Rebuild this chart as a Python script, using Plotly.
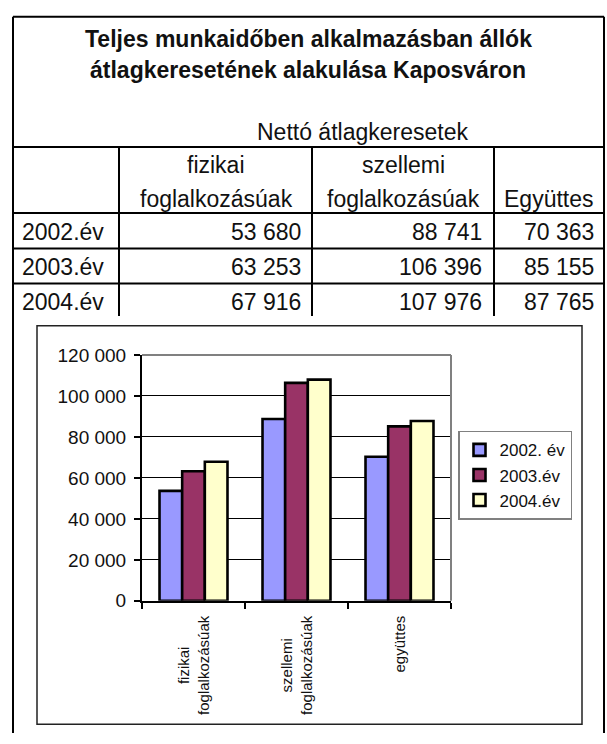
import plotly.graph_objects as go

# ---------------- data ----------------
title_lines = ["Teljes munkaidőben alkalmazásban állók",
               "átlagkeresetének alakulása Kaposváron"]
subtitle = "Nettó átlagkeresetek"
table_years = ["2002.év", "2003.év", "2004.év"]
table_headers = [["fizikai", "foglalkozásúak"],
                 ["szellemi", "foglalkozásúak"],
                 ["", "Együttes"]]
legend_names = ["2002. év", "2003.év", "2004.év"]
chart_categories = ["fizikai<br>foglalkozásúak", "szellemi<br>foglalkozásúak", "együttes"]
values_2002 = [53680, 88741, 70363]
values_2003 = [63253, 106396, 85155]
values_2004 = [67916, 107976, 87765]
series_values = [values_2002, values_2003, values_2004]
bar_colors = ["#9999FF", "#993366", "#FFFFCC"]
y_tick_values = [0, 20000, 40000, 60000, 80000, 100000, 120000]

# ---------------- layout helpers ----------------
W, H = 607, 744
FONT = "Liberation Sans, Arial, sans-serif"


def px(x):
    return x / W


def py(y):
    return 1 - y / H


def fmt(v):
    return f"{v:,}".replace(",", " ")


fig = go.Figure()

for name, vals, col in zip(legend_names, series_values, bar_colors):
    fig.add_trace(go.Bar(
        x=chart_categories, y=vals, name=name, legendgroup=name,
        marker=dict(color=col, line=dict(color="black", width=2.6)),
        hoverinfo="skip",
    ))

shapes = []


def hline(y, x0=13, x1=604, w=2):
    shapes.append(dict(type="line", xref="paper", yref="paper",
                       x0=px(x0), x1=px(x1), y0=py(y), y1=py(y),
                       line=dict(color="black", width=w)))


def vline(x, y0, y1, w=2):
    shapes.append(dict(type="line", xref="paper", yref="paper",
                       x0=px(x), x1=px(x), y0=py(y0), y1=py(y1),
                       line=dict(color="black", width=w)))


# outer frame
hline(7)
vline(13, 7, 744)
vline(604, 7, 744)
# table grid
for y in [141, 209, 245.5, 281.5]:
    hline(y)
for x in [119, 312, 494]:
    vline(x, 141, 315)

# chart frame
shapes.append(dict(type="rect", xref="paper", yref="paper",
                   x0=px(37), x1=px(582), y0=py(735), y1=py(325),
                   line=dict(color="#222222", width=1.5)))
# plot area grey border (top and right)
shapes.append(dict(type="line", xref="x domain", yref="y domain",
                   x0=0, x1=1, y0=1, y1=1, layer="above",
                   line=dict(color="#808080", width=2)))
shapes.append(dict(type="line", xref="x domain", yref="y domain",
                   x0=1, x1=1, y0=0, y1=1, layer="above",
                   line=dict(color="#808080", width=2)))

annotations = []


def text(t, x, y, size=23, anchor="center", bold=False):
    annotations.append(dict(
        text=f"<b>{t}</b>" if bold else t, x=px(x), y=py(y),
        xref="paper", yref="paper", xanchor=anchor, yanchor="middle",
        showarrow=False, font=dict(family=FONT, size=size, color="#111111")))


text(title_lines[0], 308, 30, bold=True)
text(title_lines[1], 308, 62, bold=True)
text(subtitle, 362, 126)

col_centers = [216, 403, 549]
col_rights = [303, 484, 596]
for (l1, l2), cx in zip(table_headers, col_centers):
    if l1:
        text(l1, cx, 159)
    text(l2, cx, 194)

row_ys = [228, 264, 300]
for i, (yr, ry) in enumerate(zip(table_years, row_ys)):
    text(yr, 20, ry, anchor="left")
    for j, xr in enumerate(col_rights):
        text(fmt(series_values[i][j]), xr, ry, anchor="right")

# rotated category labels under the chart
for cat in chart_categories:
    annotations.append(dict(
        text=cat, x=cat, xref="x", y=py(621), yref="paper",
        xanchor="center", yanchor="top", textangle=-90, align="center",
        showarrow=False, font=dict(family=FONT, size=15, color="#111111")))

fig.update_layout(
    width=W, height=H,
    margin=dict(l=0, r=0, t=0, b=0, pad=0),
    paper_bgcolor="white", plot_bgcolor="white",
    barmode="group", bargap=0.34, bargroupgap=0,
    separators=", ",
    font=dict(family=FONT, color="#111111"),
    shapes=shapes, annotations=annotations,
    xaxis=dict(domain=[px(142), px(451)], type="category",
               showline=True, linecolor="black", linewidth=2,
               ticks="outside", tickson="boundaries", ticklen=6,
               tickwidth=1.5, tickcolor="black",
               showticklabels=False, showgrid=False, fixedrange=True),
    yaxis=dict(domain=[py(608), py(355)], range=[0, 120000],
               tickvals=y_tick_values, tickformat=",d",
               showline=True, linecolor="black", linewidth=2,
               ticks="outside", ticklen=6, tickwidth=1.5, tickcolor="black",
               showgrid=True, gridcolor="black", gridwidth=1,
               zeroline=False, ticklabelstandoff=4,
               tickfont=dict(family=FONT, size=19, color="#111111"),
               fixedrange=True),
    legend=dict(x=px(458), y=py(433), xanchor="left", yanchor="top",
                bgcolor="white", bordercolor="#808080", borderwidth=1.5,
                font=dict(family=FONT, size=17, color="#111111"),
                tracegroupgap=6, itemwidth=30, traceorder="normal"),
    showlegend=True,
)

fig.write_html("out.html", config={"displayModeBar": False},
               post_script="document.body.style.margin='0';document.body.style.overflow='hidden';")
